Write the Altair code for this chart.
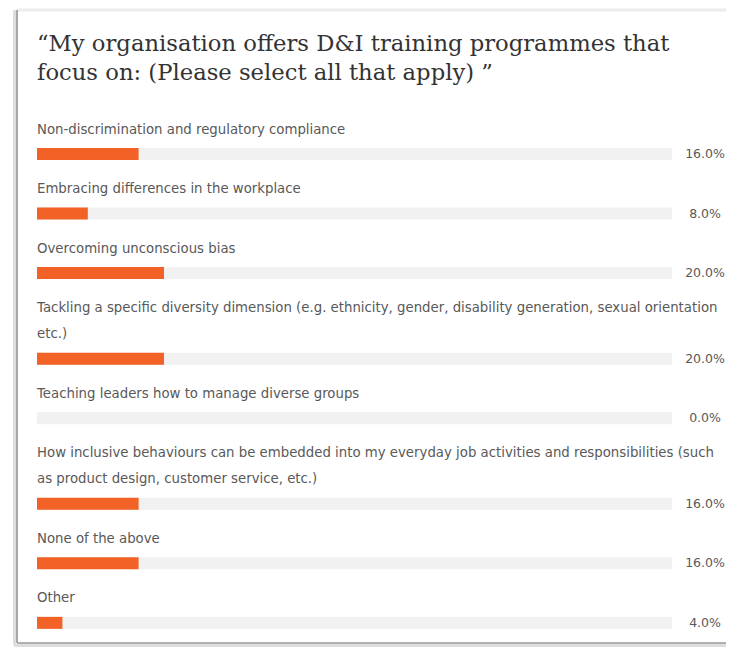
import altair as alt
import pandas as pd

# ---- data ----
title_lines = ["\u201cMy organisation offers D&I training programmes that",
               "focus on: (Please select all that apply) \u201d"]
categories = [
    ["Non-discrimination and regulatory compliance"],
    ["Embracing differences in the workplace"],
    ["Overcoming unconscious bias"],
    ["Tackling a specific diversity dimension (e.g. ethnicity, gender, disability generation, sexual orientation",
     "etc.)"],
    ["Teaching leaders how to manage diverse groups"],
    ["How inclusive behaviours can be embedded into my everyday job activities and responsibilities (such",
     "as product design, customer service, etc.)"],
    ["None of the above"],
    ["Other"],
]
values = [16.0, 8.0, 20.0, 20.0, 0.0, 16.0, 16.0, 4.0]
track_max = 100.0

# ---- layout helpers (row units) ----
EXTRA_LINE = 0.44      # extra room per additional label line
LABEL_GAP = 0.41       # last label line above its bar
LINE_STEP = 0.45       # spacing between label lines

rows, lines = [], []
extra = 0
for i, (lab, v) in enumerate(zip(categories, values)):
    extra += len(lab) - 1
    pos = i + EXTRA_LINE * extra
    rows.append({"id": i, "value": v, "start": 0.0, "end": track_max, "pos": pos,
                 "pct": f"{v:.1f}%"})
    n = len(lab)
    for k, t in enumerate(lab):
        lines.append({"id": i, "text": t, "pos": pos - LABEL_GAP - (n - 1 - k) * LINE_STEP})

bars = pd.DataFrame(rows)
texts = pd.DataFrame(lines)

W, H = 718, 540
PX = 6.35
xd0 = -29 / PX
xscale = alt.Scale(domain=[xd0, xd0 + W / PX], nice=False, zero=False)
PY = 59.5
yd0 = -46 / PY
yscale = alt.Scale(domain=[yd0, yd0 + H / PY], nice=False, zero=False, reverse=True)

ORANGE = "#f26125"
TRACK = "#f1f1f1"
TXT = "#595959"
FONT = "DejaVu Sans"

track = alt.Chart(bars).mark_rule(color=TRACK, strokeWidth=12, strokeCap="butt").encode(
    x=alt.X("start:Q", scale=xscale, axis=None),
    x2="end:Q",
    y=alt.Y("pos:Q", scale=yscale, axis=None),
)
fill = alt.Chart(bars).transform_filter("datum.value > 0").mark_rule(
    color=ORANGE, strokeWidth=12, strokeCap="butt").encode(
    x=alt.X("start:Q", scale=xscale, axis=None),
    x2="value:Q",
    y=alt.Y("pos:Q", scale=yscale, axis=None),
)
pct = alt.Chart(bars).mark_text(font=FONT, fontSize=12.5, color=TXT, align="center",
                                baseline="middle", dx=33).encode(
    x=alt.X("end:Q", scale=xscale, axis=None),
    y=alt.Y("pos:Q", scale=yscale, axis=None),
    text="pct:N",
)
labels = alt.Chart(texts).mark_text(font=FONT, fontSize=13.3, color=TXT, align="left",
                                    baseline="middle").encode(
    x=alt.datum(0, scale=xscale),
    y=alt.Y("pos:Q", scale=yscale, axis=None),
    text="text:N",
)

# title (two text lines)
title_df = pd.DataFrame({"line": [0, 1], "text": title_lines})
title1 = alt.Chart(title_df).transform_filter("datum.line == 0").mark_text(
    font="DejaVu Serif", fontSize=22.7, color="#333333", align="left", baseline="alphabetic"
).encode(x=alt.value(29), y=alt.value(-57), text="text:N")
title2 = alt.Chart(title_df).transform_filter("datum.line == 1").mark_text(
    font="DejaVu Serif", fontSize=22.7, color="#333333", align="left", baseline="alphabetic"
).encode(x=alt.value(29), y=alt.value(-28), text="text:N")

# frame decoration (card border with soft shadow)
frame_src = pd.DataFrame({"k": [0]})
left_shadow = alt.Chart(frame_src).mark_rule(color="#dddddd", strokeWidth=3).encode(
    x=alt.value(6.5), y=alt.value(-98), y2=alt.value(537))
left_line = alt.Chart(frame_src).mark_rule(color="#a8a8a8", strokeWidth=2).encode(
    x=alt.value(9), y=alt.value(-98), y2=alt.value(535))
bottom_shadow = alt.Chart(frame_src).mark_rule(color="#dddddd", strokeWidth=3).encode(
    x=alt.value(6), x2=alt.value(W), y=alt.value(537.5))
bottom_line = alt.Chart(frame_src).mark_rule(color="#b0b0b0", strokeWidth=2).encode(
    x=alt.value(9), x2=alt.value(W), y=alt.value(535))
top_shadow = alt.Chart(frame_src).mark_rule(color="#ececec", strokeWidth=3).encode(
    x=alt.value(9), x2=alt.value(W), y=alt.value(-98))

chart = alt.layer(
    top_shadow, left_shadow, bottom_shadow, left_line, bottom_line,
    title1, title2, track, fill, pct, labels
).properties(
    width=W, height=H,
    autosize=alt.AutoSizeParams(type="none"),
    padding={"left": 0, "top": 100, "right": 0, "bottom": 0},
    background="white",
).configure_view(stroke=None)

chart.save("out.html", embed_options={"renderer": "svg", "actions": False})
